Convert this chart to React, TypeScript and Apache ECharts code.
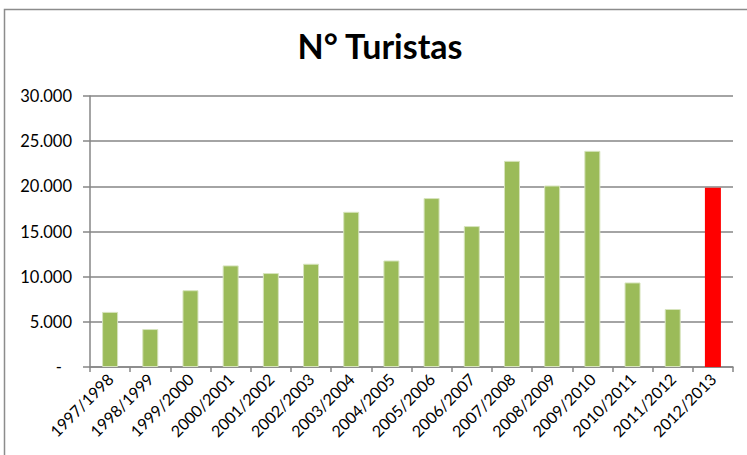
import React, { useEffect, useRef } from "react";
import * as echarts from "echarts";

const categories = [
  "1997/1998", "1998/1999", "1999/2000", "2000/2001", "2001/2002", "2002/2003",
  "2003/2004", "2004/2005", "2005/2006", "2006/2007", "2007/2008", "2008/2009",
  "2009/2010", "2010/2011", "2011/2012", "2012/2013",
];
const turistas = [
  6100, 4200, 8500, 11250, 10400, 11430, 17180, 11790, 18700, 15600, 22820, 20090,
  23930, 9360, 6420, 19830,
];
const highlightIndex = 15;
const yTicks = { min: 0, max: 30000, interval: 5000 };
const titleText = "N° Turistas";

function fmt(v: number): string {
  if (v === 0) return "{z|-}";
  return v.toLocaleString("de-DE");
}

export default function App() {
  const ref = useRef<HTMLDivElement>(null);
  useEffect(() => {
    if (!ref.current) return;
    const chart = echarts.init(ref.current, null, { renderer: "svg" });
    const font = "Lato, 'Open Sans', sans-serif";
    chart.setOption({
      animation: false,
      backgroundColor: "#ffffff",
      graphic: [
        {
          type: "rect",
          shape: { x: 4.5, y: 9.5, width: 800, height: 500 },
          style: { fill: "none", stroke: "#8c8c8c", lineWidth: 1.5 },
          silent: true,
        },
        {
          type: "text",
          x: 380,
          y: 28,
          silent: true,
          style: {
            text: titleText,
            fontFamily: font,
            fontWeight: "bold",
            fontSize: 34,
            fill: "#000",
            textAlign: "center",
            textVerticalAlign: "top",
          },
        },
      ],
      grid: { left: 90, right: 14, top: 96, bottom: 88 },
      xAxis: {
        type: "category",
        data: categories,
        axisLine: { lineStyle: { color: "#868686", width: 1.5 } },
        axisTick: { show: true, length: 5, lineStyle: { color: "#868686", width: 1.5 } },
        axisLabel: {
          rotate: 45,
          margin: 9,
          interval: 0,
          fontFamily: font,
          fontSize: 16,
          color: "#000",
        },
      },
      yAxis: {
        type: "value",
        min: yTicks.min,
        max: yTicks.max,
        interval: yTicks.interval,
        axisLine: { show: true, lineStyle: { color: "#868686", width: 1.5 } },
        axisTick: { show: true, length: 7, lineStyle: { color: "#868686", width: 1.5 } },
        splitLine: { show: true, lineStyle: { color: "#868686", width: 1.5 } },
        axisLabel: {
          margin: 18,
          fontFamily: font,
          fontSize: 16.5,
          color: "#000",
          formatter: (v: number) => fmt(v),
          rich: { z: { fontFamily: font, fontSize: 16.5, color: "#000", padding: [0, 10, 0, 0] } },
        },
      },
      series: [
        {
          type: "bar",
          barWidth: 16,
          data: turistas.map((v, i) =>
            i === highlightIndex
              ? { value: v, itemStyle: { color: "#ff0000", borderColor: "#ff0000", borderWidth: 3 } }
              : v
          ),
          itemStyle: { color: "#9bbb59", borderColor: "#d7e4bd", borderWidth: 1 },
        },
      ],
    });
    return () => chart.dispose();
  }, []);
  return (
    <div
      ref={ref}
      style={{ position: "fixed", left: 0, top: 0, width: 747, height: 455 }}
    />
  );
}
